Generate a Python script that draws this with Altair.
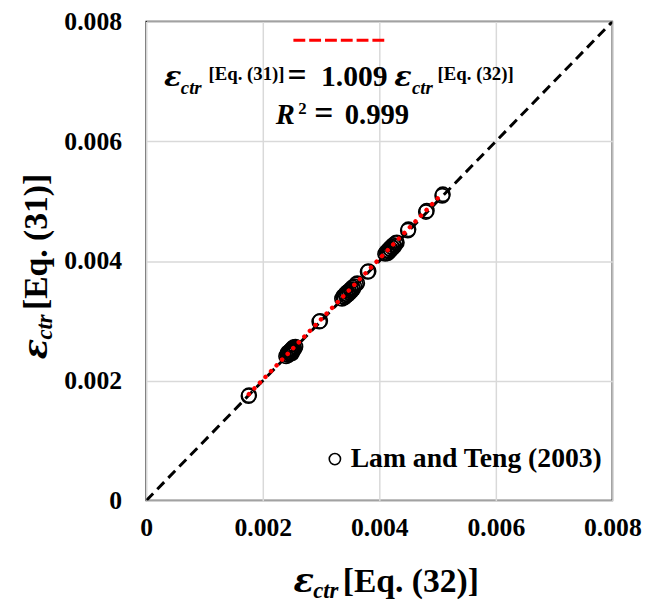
import altair as alt
import pandas as pd

FONT = "Liberation Serif"
GREEK = "DejaVu Serif"

# ---- data ----
x_vals = [
    0.001755, 0.001765,
    0.00240, 0.00242, 0.00244, 0.00245, 0.00246, 0.00247, 0.00248, 0.00249,
    0.00250, 0.00251, 0.00252, 0.00253, 0.00254, 0.00256, 0.00243, 0.00250,
    0.00297, 0.002985,
    0.00336, 0.00338, 0.00340, 0.00342, 0.00343, 0.00345, 0.00346, 0.00348,
    0.00349, 0.00351, 0.00352, 0.00354, 0.00355, 0.00357, 0.00360, 0.00362,
    0.00380, 0.003815,
    0.00410, 0.00412, 0.00414, 0.00415, 0.00417, 0.00418, 0.00420, 0.00421,
    0.00423, 0.00424, 0.00426, 0.00428, 0.00430,
    0.00449, 0.00450,
    0.00480, 0.004815,
    0.00508, 0.00509,
]
y_vals = [
    0.001745, 0.001760,
    0.00241, 0.00244, 0.00243, 0.00248, 0.00245, 0.00250, 0.00247, 0.00252,
    0.00249, 0.00254, 0.00251, 0.00256, 0.00253, 0.00257, 0.00247, 0.00246,
    0.00299, 0.00300,
    0.00337, 0.00341, 0.00339, 0.00345, 0.00342, 0.00348, 0.00344, 0.00350,
    0.00347, 0.00353, 0.00350, 0.00356, 0.00353, 0.00358, 0.00361, 0.00363,
    0.00382, 0.00383,
    0.00412, 0.00415, 0.00413, 0.00418, 0.00416, 0.00421, 0.00419, 0.00424,
    0.00422, 0.00427, 0.00425, 0.00430, 0.00431,
    0.00451, 0.00453,
    0.00482, 0.00484,
    0.00509, 0.005115,
]
series_name = "Lam and Teng (2003)"

diag_x = [0.0, 0.008]
diag_y = [0.0, 0.008]

trend_x = [0.00176, 0.00509]
trend_y = [0.001776, 0.005136]

ticks = [0.0, 0.002, 0.004, 0.006, 0.008]

pts = pd.DataFrame({"x": x_vals, "y": y_vals, "src": [series_name] * len(x_vals)})
diag = pd.DataFrame({"x": diag_x, "y": diag_y})
trend = pd.DataFrame({"x": trend_x, "y": trend_y})

xs = alt.Scale(domain=[0, 0.008], nice=False, zero=False)
ys = alt.Scale(domain=[0, 0.008], nice=False, zero=False)
lab = "datum.value == 0 ? '0' : format(datum.value, '.3f')"

x_axis = alt.Axis(values=ticks, labelExpr=lab, title=None, labelPadding=14,
                  labelFlush=False, labelOverlap=False)
y_axis = alt.Axis(values=ticks, labelExpr=lab, title=None, labelPadding=25,
                  labelFlush=False, labelOverlap=False)

diag_layer = alt.Chart(diag).mark_line(
    color="black", strokeWidth=3, strokeDash=[10, 6], clip=True
).encode(
    x=alt.X("x:Q", scale=xs, axis=x_axis),
    y=alt.Y("y:Q", scale=ys, axis=y_axis),
)

pts_layer = alt.Chart(pts).mark_point(
    shape="circle", filled=False, size=210, strokeWidth=1.7, opacity=1
).encode(
    x=alt.X("x:Q", scale=xs),
    y=alt.Y("y:Q", scale=ys),
    color=alt.Color(
        "src:N",
        scale=alt.Scale(range=["black"]),
        legend=alt.Legend(
            title=None, orient="none", legendX=177, legendY=429,
            symbolType="circle", symbolSize=130, symbolStrokeWidth=1.6,
            symbolFillColor="white", labelFont=FONT, labelFontSize=28,
            labelFontWeight=700, labelFontStyle="normal", labelColor="black",
            labelOffset=2, labelLimit=400, padding=0,
        ),
    ),
)

trend_layer = alt.Chart(trend).mark_line(
    color="#ff0000", strokeWidth=4.5, strokeDash=[0.1, 8], strokeCap="round"
).encode(
    x=alt.X("x:Q", scale=xs),
    y=alt.Y("y:Q", scale=ys),
)


def txt(s, x, y, size, italic=False, angle=0, font=FONT):
    return alt.Chart(alt.Data(values=[{}])).mark_text(
        text=s, font=font, fontSize=size, fontWeight="bold",
        fontStyle="italic" if italic else "normal", align="left",
        baseline="alphabetic", angle=angle, color="black",
    ).encode(x=alt.value(x), y=alt.value(y))


# red dashed sample of the fitted line
sample = alt.Chart(alt.Data(values=[{}])).mark_rule(
    color="#ff0000", strokeWidth=3, strokeDash=[12, 4]
).encode(x=alt.value(149), x2=alt.value(244), y=alt.value(19))

annot = [
    txt("\u03b5", 18, 65, 29, italic=True, font=GREEK),
    txt("ctr", 35, 73, 19, italic=True),
    txt("[Eq. (31)]", 63, 59, 19),
    txt("=", 143, 65, 34),
    txt("1.009", 177, 65, 30),
    txt("\u03b5", 251, 65, 29, italic=True, font=GREEK),
    txt("ctr", 269, 73, 19, italic=True),
    txt("[Eq. (32)]", 295, 59, 19),
    txt("R", 131, 104, 29, italic=True),
    txt("2", 154, 94, 17),
    txt("=", 170, 104, 34),
    txt("0.999", 201, 104, 29),
    # x axis title
    txt("\u03b5", 149, 578, 34, italic=True, font=GREEK),
    txt("ctr", 169, 584, 23, italic=True),
    txt("[Eq. (32)]", 199, 578, 34),
    # y axis title (rotated)
    txt("\u03b5", -101, 342, 34, italic=True, angle=270, font=GREEK),
    txt("ctr", -95, 322, 23, italic=True, angle=270),
    txt("[Eq. (31)]", -101, 292, 34, angle=270),
]

chart = alt.layer(diag_layer, pts_layer, trend_layer, sample, *annot).properties(
    width=472,
    height=485,
    padding={"left": 140, "top": 10, "right": 31, "bottom": 100},
    autosize=alt.AutoSizeParams(type="none"),
    background="white",
).configure_view(
    stroke="black", strokeWidth=1.5
).configure_axis(
    grid=True, gridColor="#d9d9d9", gridWidth=1.5, domain=False, ticks=False,
    labelFont=FONT, labelFontSize=26, labelFontWeight="bold", labelColor="black",
).configure_legend(
    labelFont=FONT, labelFontSize=28, labelFontWeight=700, labelColor="black",
)

chart.save("out.html", embed_options={"renderer": "svg", "actions": False})
